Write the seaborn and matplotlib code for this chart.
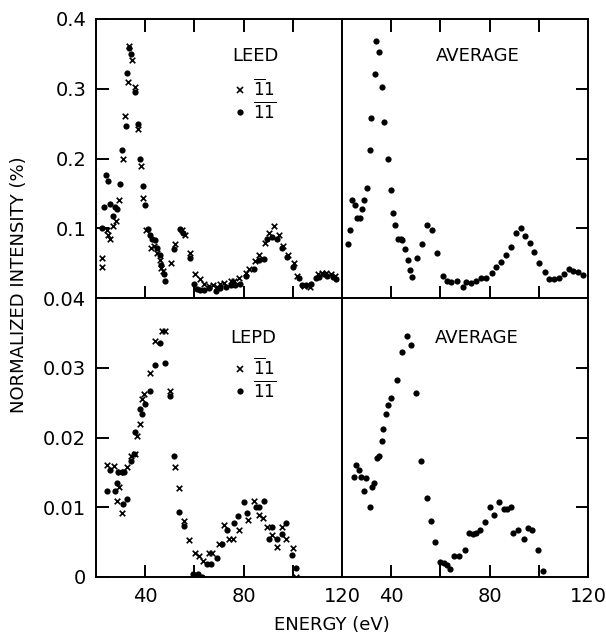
import pandas as pd
import matplotlib.pyplot as plt
import seaborn as sns
from matplotlib.lines import Line2D

sns.set_style("ticks")
plt.rcParams['font.family'] = ['DejaVu Sans']
plt.rcParams['mathtext.fontset'] = 'dejavusans'
plt.rcParams['text.color'] = 'black'

# LEED, 1bar-1 beam (x marks)
leed_x_e = [22.6, 22.4, 24.4, 25.0, 25.7, 27.1, 28.0, 29.4, 30.9, 31.8, 32.9, 33.6, 34.7, 35.8,
            37.0, 38.2, 39.0, 40.3, 42.3, 43.4, 44.8, 45.9, 46.5, 47.3, 50.5, 52.1, 54.8, 56.3,
            58.4, 60.4, 62.4, 64.1, 65.9, 67.5, 69.0, 70.3, 72.0, 74.7, 76.1, 78.1, 80.8, 82.2,
            84.5, 86.3, 88.6, 90.3, 92.4, 94.4, 96.2, 98.1, 100.3, 101.9, 104.6, 107.1, 110.1,
            111.7, 113.5, 115.5, 117.3]
leed_x_i = [0.058, 0.044, 0.098, 0.091, 0.085, 0.103, 0.110, 0.141, 0.199, 0.261, 0.309, 0.362,
            0.341, 0.302, 0.242, 0.189, 0.143, 0.098, 0.072, 0.074, 0.065, 0.055, 0.043, 0.039,
            0.050, 0.077, 0.097, 0.091, 0.064, 0.034, 0.027, 0.020, 0.017, 0.018, 0.016, 0.020,
            0.021, 0.024, 0.024, 0.028, 0.036, 0.042, 0.053, 0.062, 0.079, 0.093, 0.103, 0.090,
            0.075, 0.062, 0.050, 0.032, 0.017, 0.016, 0.034, 0.036, 0.036, 0.035, 0.032]

# LEED, 1bar-1bar beam (dots)
leed_o_e = [22.3, 23.3, 24.1, 25.0, 25.7, 27.1, 27.8, 28.4, 29.8, 30.7, 32.0, 32.8, 33.5, 34.3,
            35.8, 36.9, 38.0, 39.0, 40.1, 41.1, 42.0, 42.7, 43.8, 44.8, 45.9, 46.4, 47.5, 48.2,
            51.8, 54.3, 55.4, 58.1, 60.0, 61.1, 62.4, 64.1, 65.9, 68.6, 70.6, 72.7, 74.7, 76.7,
            78.5, 80.8, 84.2, 86.3, 88.3, 89.7, 91.7, 93.7, 95.5, 97.6, 100.1, 102.6, 103.9,
            105.3, 107.3, 109.4, 110.7, 112.5, 114.1, 116.2, 117.6]
leed_o_i = [0.100, 0.130, 0.177, 0.168, 0.135, 0.117, 0.131, 0.128, 0.164, 0.212, 0.247, 0.322,
            0.358, 0.350, 0.296, 0.250, 0.200, 0.160, 0.133, 0.099, 0.091, 0.085, 0.083, 0.072,
            0.062, 0.048, 0.034, 0.024, 0.070, 0.099, 0.093, 0.058, 0.020, 0.013, 0.012, 0.012,
            0.014, 0.010, 0.014, 0.016, 0.018, 0.018, 0.020, 0.031, 0.041, 0.054, 0.056, 0.085,
            0.088, 0.085, 0.072, 0.059, 0.045, 0.028, 0.019, 0.018, 0.020, 0.028, 0.030, 0.034,
            0.032, 0.030, 0.027]

# LEED average
leed_avg_e = [22.3, 23.4, 24.0, 25.1, 26.0, 27.4, 28.3, 29.0, 30.1, 31.2, 31.8, 33.4, 33.8, 35.1,
              36.4, 37.2, 38.5, 39.8, 40.7, 41.7, 42.6, 43.8, 44.5, 45.5, 46.7, 47.8, 48.6, 50.6,
              52.5, 54.5, 56.7, 58.7, 61.0, 62.6, 64.4, 66.8, 69.1, 70.4, 72.4, 74.4, 76.5, 78.5,
              80.8, 82.8, 84.8, 86.5, 88.5, 90.6, 92.6, 94.3, 96.3, 98.2, 100.2, 102.4, 104.3,
              106.3, 108.3, 110.3, 112.1, 114.1, 116.1, 118.1]
leed_avg_i = [0.078, 0.098, 0.141, 0.134, 0.115, 0.115, 0.128, 0.141, 0.157, 0.212, 0.258, 0.321,
              0.368, 0.353, 0.302, 0.253, 0.200, 0.155, 0.122, 0.104, 0.085, 0.085, 0.083, 0.070,
              0.054, 0.040, 0.030, 0.058, 0.078, 0.104, 0.098, 0.065, 0.032, 0.024, 0.023, 0.024,
              0.016, 0.023, 0.021, 0.025, 0.028, 0.029, 0.036, 0.045, 0.052, 0.061, 0.073, 0.093,
              0.100, 0.089, 0.079, 0.066, 0.050, 0.037, 0.027, 0.027, 0.028, 0.035, 0.042, 0.039,
              0.037, 0.033]

# LEPD, 1bar-1 beam (x marks)
lepd_x_e = [24.6, 27.5, 28.7, 29.5, 29.8, 30.5, 32.5, 34.3, 35.9, 36.6, 37.7, 38.6, 39.6, 42.0,
            44.1, 46.8, 48.2, 50.2, 52.1, 53.9, 55.9, 58.0, 60.4, 61.8, 63.5, 65.9, 67.2, 69.9,
            72.0, 74.0, 75.6, 78.1, 81.8, 84.2, 86.3, 88.0, 89.7, 91.7, 93.7, 95.8, 97.4, 100.0,
            101.1]
lepd_x_i = [0.0161, 0.0159, 0.0109, 0.0129, 0.0150, 0.0092, 0.0158, 0.0173, 0.0177, 0.0202,
            0.0220, 0.0255, 0.0262, 0.0293, 0.0338, 0.0353, 0.0353, 0.0266, 0.0158, 0.0128,
            0.0081, 0.0053, 0.0034, 0.0030, 0.0023, 0.0034, 0.0034, 0.0047, 0.0074, 0.0055,
            0.0055, 0.0068, 0.0082, 0.0109, 0.0089, 0.0085, 0.0072, 0.0060, 0.0043, 0.0072,
            0.0054, 0.0041, 0.0000]

# LEPD, 1bar-1bar beam (dots)
lepd_o_e = [24.6, 25.7, 27.8, 28.7, 29.1, 30.5, 30.9, 31.4, 32.5, 34.3, 35.6, 35.9, 37.7, 38.6,
            39.9, 42.0, 44.1, 46.1, 47.9, 50.2, 51.8, 53.9, 55.9, 59.3, 61.4, 63.1, 65.2, 66.9,
            69.3, 71.3, 73.3, 76.1, 77.7, 80.1, 81.2, 84.9, 86.3, 88.3, 90.3, 91.7, 93.5, 95.8,
            97.4, 99.5, 101.1]
lepd_o_i = [0.0123, 0.0154, 0.0123, 0.0135, 0.0150, 0.0150, 0.0105, 0.0150, 0.0112, 0.0166,
            0.0176, 0.0208, 0.0241, 0.0234, 0.0248, 0.0267, 0.0304, 0.0335, 0.0307, 0.0260,
            0.0173, 0.0093, 0.0073, 0.0005, 0.0005, 0.0000, 0.0019, 0.0019, 0.0027, 0.0048,
            0.0068, 0.0078, 0.0087, 0.0108, 0.0092, 0.0100, 0.0100, 0.0109, 0.0055, 0.0072,
            0.0055, 0.0062, 0.0078, 0.0031, 0.0013]

# LEPD average
lepd_avg_e = [24.7, 25.8, 27.0, 27.8, 29.8, 29.0, 31.2, 32.1, 33.0, 34.1, 35.2, 36.1, 36.8, 37.9,
              38.8, 39.9, 42.2, 44.2, 46.5, 48.2, 50.2, 52.3, 54.5, 56.0, 58.0, 59.7, 61.3, 62.6,
              64.0, 65.7, 67.7, 70.0, 71.7, 73.1, 74.4, 76.0, 78.1, 80.2, 81.8, 83.8, 85.9, 86.9,
              88.5, 89.6, 91.5, 93.9, 95.7, 97.3, 99.6, 101.6]
lepd_avg_i = [0.0143, 0.0161, 0.0153, 0.0143, 0.0142, 0.0124, 0.0100, 0.0129, 0.0135, 0.0171,
              0.0173, 0.0195, 0.0212, 0.0233, 0.0247, 0.0257, 0.0283, 0.0323, 0.0346, 0.0332,
              0.0264, 0.0167, 0.0113, 0.0080, 0.0050, 0.0022, 0.0020, 0.0017, 0.0012, 0.0030,
              0.0030, 0.0039, 0.0063, 0.0062, 0.0063, 0.0068, 0.0079, 0.0101, 0.0089, 0.0107,
              0.0097, 0.0097, 0.0100, 0.0063, 0.0068, 0.0054, 0.0070, 0.0068, 0.0038, 0.0009]

beam_a = r'$\overline{1}1$'
beam_b = r'$\overline{1}\overline{1}$'


def frame(e, i, beam):
    return pd.DataFrame({'energy': e, 'intensity': i, 'beam': beam})


leed = pd.concat([frame(leed_x_e, leed_x_i, beam_a), frame(leed_o_e, leed_o_i, beam_b)])
lepd = pd.concat([frame(lepd_x_e, lepd_x_i, beam_a), frame(lepd_o_e, lepd_o_i, beam_b)])
leed_avg = frame(leed_avg_e, leed_avg_i, 'avg')
lepd_avg = frame(lepd_avg_e, lepd_avg_i, 'avg')

W, H = 606, 633
fig = plt.figure(figsize=(W / 100, H / 100), dpi=100)
pw, ph = 246 / W, 279 / H
ax_tl = fig.add_axes([96 / W, 1 - 298 / H, pw, ph])
ax_tr = fig.add_axes([342 / W, 1 - 298 / H, pw, ph])
ax_bl = fig.add_axes([96 / W, 1 - 577 / H, pw, ph])
ax_br = fig.add_axes([342 / W, 1 - 577 / H, pw, ph])

for ax, df in [(ax_tl, leed), (ax_bl, lepd)]:
    sub = df[df['beam'] == beam_a]
    sns.scatterplot(data=sub, x='energy', y='intensity', marker='x', color='black',
                    s=16, linewidth=1.2, ax=ax, legend=False)
    sub = df[df['beam'] == beam_b]
    sns.scatterplot(data=sub, x='energy', y='intensity', marker='o', color='black',
                    s=20, linewidth=0, ax=ax, legend=False)
for ax, df in [(ax_tr, leed_avg), (ax_br, lepd_avg)]:
    sns.scatterplot(data=df, x='energy', y='intensity', marker='o', color='black',
                    s=20, linewidth=0, ax=ax, legend=False)

for ax in [ax_tl, ax_tr, ax_bl, ax_br]:
    ax.set_xlim(20, 120)
    ax.set_xlabel('')
    ax.set_ylabel('')
    for sp in ax.spines.values():
        sp.set_visible(True)
        sp.set_linewidth(1.4)
        sp.set_color('black')
    ax.tick_params(direction='in', length=9, width=1.4, labelsize=14, pad=7, colors='black')

for ax in [ax_tl, ax_tr]:
    ax.set_ylim(0, 0.4)
    ax.set_xticks([40, 60, 80, 100])
    ax.tick_params(axis='x', top=True, bottom=True, labelbottom=False)
for ax in [ax_bl, ax_br]:
    ax.set_ylim(0, 0.04)
    ax.set_xticks([40, 60, 80, 100, 120])
    ax.set_xticklabels(['40', '', '80', '', '120'])
    ax.tick_params(axis='x', top=False, bottom=True)

ax_tl.set_yticks([0.1, 0.2, 0.3, 0.4])
ax_tl.set_yticklabels(['0.1', '0.2', '0.3', '0.4'])
ax_bl.set_yticks([0, 0.01, 0.02, 0.03, 0.04])
ax_bl.set_yticklabels(['0', '0.01', '0.02', '0.03', '0.04'])
ax_tr.set_yticks([0.1, 0.2, 0.3])
ax_br.set_yticks([0.01, 0.02, 0.03])
for ax in [ax_tl, ax_bl]:
    ax.tick_params(axis='y', left=True, right=False)
for ax in [ax_tr, ax_br]:
    ax.tick_params(axis='y', left=False, right=True, labelleft=False)

ax_tl.text(0.553, 0.867, 'LEED', transform=ax_tl.transAxes, fontsize=13, va='center')
ax_tr.text(0.382, 0.867, 'AVERAGE', transform=ax_tr.transAxes, fontsize=13, va='center')
ax_bl.text(0.545, 0.858, 'LEPD', transform=ax_bl.transAxes, fontsize=13, va='center')
ax_br.text(0.378, 0.857, 'AVERAGE', transform=ax_br.transAxes, fontsize=13, va='center')

handles = [Line2D([], [], marker='x', color='black', linestyle='none', markersize=4, mew=1.2),
           Line2D([], [], marker='o', color='black', linestyle='none', markersize=4.5, mew=0)]
for ax in [ax_tl, ax_bl]:
    ax.legend(handles, [beam_a, beam_b], loc='upper left', bbox_to_anchor=(0.525, 0.815),
              frameon=False, fontsize=12, handlelength=0.8, handletextpad=0.35,
              borderpad=0, labelspacing=0.05, labelcolor='black')

fig.text(0.031, 0.55, 'NORMALIZED INTENSITY (%)', rotation=90, fontsize=13,
         ha='center', va='center', color='black')
fig.text(0.548, 0.013, 'ENERGY (eV)', fontsize=13, ha='center', va='center', color='black')

fig.savefig('out.png', dpi=100)
